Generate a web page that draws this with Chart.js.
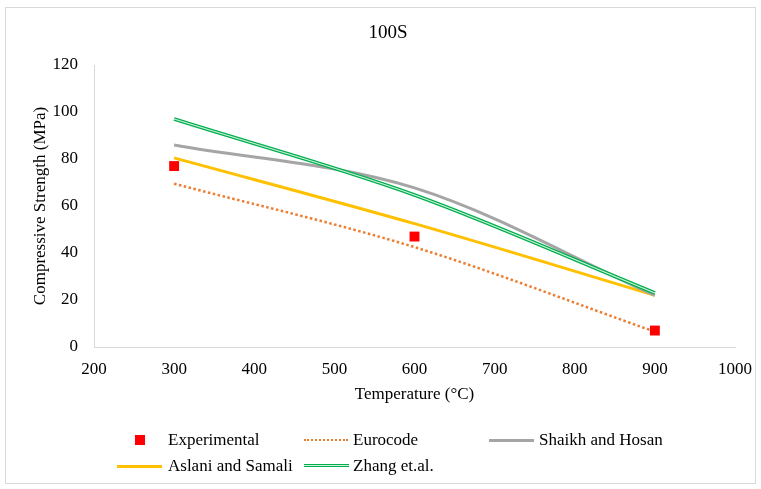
<!DOCTYPE html>
<html><head><meta charset="utf-8">
<script src="https://cdn.jsdelivr.net/npm/chart.js@4/dist/chart.umd.min.js"></script>
<style>
html,body{margin:0;padding:0;background:#fff;}
#wrap{position:relative;width:761px;height:489px;overflow:hidden;font-family:'Liberation Serif','Times New Roman',serif;}
#frame{position:absolute;left:5px;top:7px;width:751px;height:477px;border:1px solid #d9d9d9;box-sizing:border-box;}
canvas{position:absolute;left:0;top:0;}
.lt{position:absolute;font-size:17px;color:#000;line-height:20px;white-space:nowrap;}
.sym{position:absolute;}
</style></head>
<body>
<div id="wrap">
<div id="frame"></div>
<canvas id="c" width="761" height="489"></canvas>
<div id="legend"></div>
</div>
<script>
// ---- data ----
const temperatures = [300, 600, 900];
const experimental = [77, 47, 7];
const eurocode = [69.5, 42.5, 6.5];
const shaikhHosan = [86, 67.7, 22];
const aslaniSamali = [80.5, 52.5, 22];
const zhang = [97, 64.7, 23];
const xTicks = [200, 300, 400, 500, 600, 700, 800, 900, 1000];
const yTicks = [0, 20, 40, 60, 80, 100, 120];
const seriesNames = ['Experimental', 'Eurocode', 'Shaikh and Hosan', 'Aslani and Samali', 'Zhang et.al.'];

const FONT = "'Liberation Serif','Times New Roman',serif";
const pts = arr => arr.map((v, i) => ({x: temperatures[i], y: v}));
const TENSION = 0.33;

const datasets = [
  {label: seriesNames[0], data: pts(experimental), showLine: false, pointStyle: 'rect',
   pointRadius: 7, pointBackgroundColor: '#FF0000', pointBorderWidth: 0, borderColor: '#FF0000', order: 0},
  {label: seriesNames[4] + ' inner', data: pts(zhang), borderColor: '#d4efdc', borderWidth: 1.2,
   pointRadius: 0, tension: TENSION, order: 1},
  {label: seriesNames[4], data: pts(zhang), borderColor: '#00B050', borderWidth: 3.6,
   pointRadius: 0, tension: TENSION, order: 2},
  {label: seriesNames[2], data: pts(shaikhHosan), borderColor: '#A5A5A5', borderWidth: 3,
   pointRadius: 0, tension: TENSION, order: 3},
  {label: seriesNames[3], data: pts(aslaniSamali), borderColor: '#FFC000', borderWidth: 3,
   pointRadius: 0, tension: TENSION, order: 4},
  {label: seriesNames[1], data: pts(eurocode), borderColor: '#ED7D31', borderWidth: 2.5,
   borderDash: [2.5, 2.5], pointRadius: 0, tension: TENSION, order: 5}
];

new Chart(document.getElementById('c'), {
  type: 'line',
  data: {datasets},
  options: {
    responsive: false,
    animation: false,
    devicePixelRatio: 1,
    layout: {padding: {left: 41, right: 26, top: 0, bottom: 82}},
    plugins: {
      legend: {display: false},
      tooltip: {enabled: false},
      title: {display: true, text: '100S', color: '#000',
        font: {family: FONT, size: 19, weight: 'normal', lineHeight: 1.2},
        padding: {top: 22, bottom: 20.2}}
    },
    scales: {
      x: {
        type: 'linear', min: xTicks[0], max: xTicks[xTicks.length - 1],
        afterBuildTicks: s => { s.ticks = xTicks.map(v => ({value: v})); },
        afterFit: s => { s.height = 60; s.paddingRight = 0; },
        grid: {display: false, drawTicks: false},
        border: {display: true, color: '#D9D9D9', width: 1},
        ticks: {color: '#000', padding: 12, font: {family: FONT, size: 17},
          callback: v => String(v)},
        title: {display: true, text: 'Temperature (°C)', color: '#000',
          font: {family: FONT, size: 17, lineHeight: 1.2}, padding: {top: 4, bottom: 2}}
      },
      y: {
        type: 'linear', min: yTicks[0], max: yTicks[yTicks.length - 1],
        afterBuildTicks: s => { s.ticks = yTicks.map(v => ({value: v})); },
        afterFit: s => { s.width = 53; },
        grid: {display: false, drawTicks: false},
        border: {display: true, color: '#D9D9D9', width: 1},
        ticks: {color: '#000', padding: 16, font: {family: FONT, size: 17},
          callback: v => String(v)},
        title: {display: true, text: 'Compressive Strength (MPa)', color: '#000',
          font: {family: FONT, size: 17, lineHeight: 1.2}, padding: {top: -10.2, bottom: 0}}
      }
    }
  }
});

// ---- HTML legend ----
const legendItems = [
  {name: seriesNames[0], kind: 'square', color: '#FF0000', sx: 117, tx: 168, y: 440},
  {name: seriesNames[1], kind: 'dot', color: '#ED7D31', sx: 304, tx: 353, y: 440},
  {name: seriesNames[2], kind: 'line', color: '#A5A5A5', sx: 489, tx: 539, y: 440},
  {name: seriesNames[3], kind: 'line', color: '#FFC000', sx: 117, tx: 168, y: 466},
  {name: seriesNames[4], kind: 'double', color: '#00B050', sx: 304, tx: 353, y: 466}
];
const lg = document.getElementById('legend');
legendItems.forEach(it => {
  const s = document.createElement('div');
  s.className = 'sym';
  if (it.kind === 'square') {
    s.style.cssText = `left:${it.sx + 18}px;top:${it.y - 5}px;width:10px;height:10px;background:${it.color};`;
  } else if (it.kind === 'dot') {
    s.style.cssText = `left:${it.sx}px;top:${it.y - 1}px;width:44px;height:0;border-top:2.5px dotted ${it.color};`;
  } else if (it.kind === 'line') {
    s.style.cssText = `left:${it.sx}px;top:${it.y - 1.5}px;width:45px;height:3px;background:${it.color};`;
  } else {
    s.style.cssText = `left:${it.sx}px;top:${it.y - 2}px;width:45px;height:1.2px;background:#d4efdc;border-top:1.4px solid ${it.color};border-bottom:1.4px solid ${it.color};`;
  }
  lg.appendChild(s);
  const t = document.createElement('div');
  t.className = 'lt';
  t.textContent = it.name;
  t.style.left = it.tx + 'px';
  t.style.top = (it.y - 10) + 'px';
  lg.appendChild(t);
});
</script>
</body></html>
